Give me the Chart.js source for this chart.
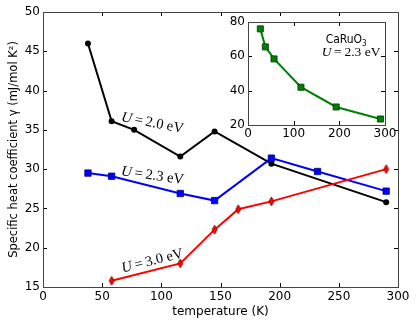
<!DOCTYPE html>
<html>
<head>
<meta charset="utf-8">
<script src="https://cdn.jsdelivr.net/npm/chart.js@4/dist/chart.umd.min.js"></script>
<style>
  html, body { margin: 0; padding: 0; background: #fff; }
  #wrap { position: relative; width: 416px; height: 325px; }
  #main { position: absolute; left: 0; top: 0; }
  #inset { position: absolute; left: 220px; top: 10px; }
</style>
</head>
<body>
<div id="wrap">
  <canvas id="main" width="416" height="325"></canvas>
  <canvas id="inset" width="180" height="135"></canvas>
</div>
<script>
// --- data ---
const tempU20 = [38, 58, 77, 116, 145, 193, 290];
const gammaU20 = [46.0, 36.1, 35.0, 31.6, 34.8, 30.7, 25.8];

const tempU23 = [38, 58, 116, 145, 193, 232, 290];
const gammaU23 = [29.5, 29.1, 26.9, 26.0, 31.4, 29.7, 27.2];

const tempU30 = [58, 116, 145, 165, 193, 290];
const gammaU30 = [15.8, 18.0, 22.3, 24.9, 25.9, 30.0];

const tempCaRuO3 = [27, 38, 57, 116, 193, 290];
const gammaCaRuO3 = [76.0, 65.5, 58.5, 42.0, 30.5, 23.5];

const seriesLabels = ["U=2.0 eV", "U=2.3 eV", "U=3.0 eV"];
const insetLabels = ["CaRuO3", "U=2.3 eV"];

const xTicksMain = [0, 50, 100, 150, 200, 250, 300];
const yTicksMain = [15, 20, 25, 30, 35, 40, 45, 50];
const xTicksInset = [0, 100, 200, 300];
const yTicksInset = [20, 40, 60, 80];

// --- helpers ---
const pts = (xs, ys) => xs.map((x, i) => ({ x, y: ys[i] }));
const useTicks = list => scale => { scale.ticks = list.map(v => ({ value: v })); };
const noGrid = { display: false, drawTicks: false, tickLength: 0 };

function thinDiamond(fill, edge, w, h) {
  const c = document.createElement("canvas");
  c.width = w + 2; c.height = h + 2;
  const g = c.getContext("2d");
  g.beginPath();
  g.moveTo(c.width / 2, 1);
  g.lineTo(c.width - 1, c.height / 2);
  g.lineTo(c.width / 2, c.height - 1);
  g.lineTo(1, c.height / 2);
  g.closePath();
  g.fillStyle = fill; g.fill();
  g.strokeStyle = edge; g.lineWidth = 0.8; g.stroke();
  return c;
}

// matplotlib-ish frame: box + inward ticks on all four sides
const frameTicks = {
  id: "frameTicks",
  beforeDraw(chart, args, opts) {
    if (!opts.fill) return;
    const a = chart.chartArea, ctx = chart.ctx;
    ctx.save();
    ctx.fillStyle = "#fff";
    ctx.fillRect(a.left, a.top, a.right - a.left, a.bottom - a.top);
    ctx.restore();
  },
  afterDraw(chart, args, opts) {
    const { ctx, chartArea: a, scales: { x, y } } = chart;
    const len = opts.len || 4;
    ctx.save();
    ctx.strokeStyle = "#000";
    ctx.lineWidth = 1;
    ctx.beginPath();
    x.ticks.forEach(t => {
      const px = Math.round(x.getPixelForValue(t.value)) + 0.5;
      ctx.moveTo(px, a.bottom); ctx.lineTo(px, a.bottom - len);
      ctx.moveTo(px, a.top); ctx.lineTo(px, a.top + len);
    });
    y.ticks.forEach(t => {
      const py = Math.round(y.getPixelForValue(t.value)) + 0.5;
      ctx.moveTo(a.left, py); ctx.lineTo(a.left + len, py);
      ctx.moveTo(a.right, py); ctx.lineTo(a.right - len, py);
    });
    ctx.stroke();
    ctx.strokeStyle = "#444";
    ctx.strokeRect(Math.round(a.left) + 0.5, Math.round(a.top) + 0.5,
                   Math.round(a.right - a.left), Math.round(a.bottom - a.top));
    ctx.restore();
  }
};

// "U=2.0 eV" style labels: italic U, roman rest
function drawMathLabel(ctx, text, size) {
  const head = text.charAt(0);
  const tail = "\u2009=\u2009" + text.slice(2);
  const fi = "italic " + size + "px 'Liberation Serif'";
  const fr = size + "px 'Liberation Serif'";
  ctx.font = fi; const w1 = ctx.measureText(head).width;
  ctx.font = fr; const w2 = ctx.measureText(tail).width;
  return { w: w1 + w2, draw(x0) {
    ctx.font = fi; ctx.fillText(head, x0, 0);
    ctx.font = fr; ctx.fillText(tail, x0 + w1, 0);
  } };
}

const curveLabels = {
  id: "curveLabels",
  afterDatasetsDraw(chart, args, opts) {
    const { ctx, scales: { x, y } } = chart;
    opts.items.forEach(it => {
      const px = x.getPixelForValue(it.x), py = y.getPixelForValue(it.y);
      ctx.save();
      ctx.translate(px, py);
      ctx.rotate(it.angle * Math.PI / 180);
      ctx.fillStyle = "#000";
      ctx.textBaseline = "middle";
      const m = drawMathLabel(ctx, it.text, 14.5);
      m.draw(-m.w / 2);
      ctx.restore();
    });
  }
};

const insetText = {
  id: "insetText",
  afterDraw(chart, args, opts) {
    const { ctx, scales: { x, y } } = chart;
    const px = x.getPixelForValue(opts.x);
    const py1 = y.getPixelForValue(opts.y1);
    const py2 = y.getPixelForValue(opts.y2);
    ctx.save();
    ctx.fillStyle = "#000";
    ctx.textBaseline = "alphabetic";
    const name = insetLabels[0];
    ctx.font = "12px 'DejaVu Sans Condensed', 'DejaVu Sans'";
    const base = name.slice(0, -1);
    ctx.fillText(base, px, py1);
    const bw = ctx.measureText(base).width;
    ctx.font = "8px 'DejaVu Sans Condensed', 'DejaVu Sans'";
    ctx.fillText(name.slice(-1), px + bw, py1 + 3);
    ctx.translate(px - 4, py2);
    const m = drawMathLabel(ctx, insetLabels[1], 13.5);
    m.draw(0);
    ctx.restore();
  }
};

const tickFont = { family: "DejaVu Sans", size: 12 };

// --- main chart ---
new Chart(document.getElementById("main"), {
  type: "line",
  data: {
    datasets: [
      {
        label: seriesLabels[0],
        data: pts(tempU20, gammaU20),
        borderColor: "#000", backgroundColor: "#000",
        borderWidth: 2, pointStyle: "circle", pointRadius: 3, pointBorderWidth: 0,
        order: 3
      },
      {
        label: seriesLabels[1],
        data: pts(tempU23, gammaU23),
        borderColor: "#0000ff", backgroundColor: "#0000ff",
        pointBorderColor: "#000080", pointBorderWidth: 0.8,
        borderWidth: 2, pointStyle: "rect", pointRadius: 4.5,
        order: 2
      },
      {
        label: seriesLabels[2],
        data: pts(tempU30, gammaU30),
        borderColor: "#ff0000", backgroundColor: "#ff0000",
        borderWidth: 2, pointStyle: thinDiamond("#ff0000", "#800000", 5, 9),
        order: 1
      }
    ]
  },
  options: {
    responsive: false,
    animation: false,
    layout: { padding: { left: 0, right: 18, top: 12, bottom: 0 } },
    plugins: {
      legend: { display: false },
      tooltip: { enabled: false },
      frameTicks: { len: 4 },
      curveLabels: {
        items: [
          { text: seriesLabels[0], x: 92.5, y: 35.85, angle: 11 },
          { text: seriesLabels[1], x: 92.5, y: 29.15, angle: 8 },
          { text: seriesLabels[2], x: 92.5, y: 18.3, angle: -14 }
        ]
      }
    },
    scales: {
      x: {
        type: "linear", min: 0, max: 300,
        afterBuildTicks: useTicks(xTicksMain),
        afterFit: s => { s.height = 38; },
        grid: noGrid, border: { display: false },
        ticks: { color: "#000", font: tickFont, padding: 3, maxRotation: 0 },
        title: { display: true, text: "temperature (K)", color: "#000",
                 font: { family: "DejaVu Sans", size: 12 }, padding: { top: 0, bottom: 6 } }
      },
      y: {
        type: "linear", min: 15, max: 50,
        afterBuildTicks: useTicks(yTicksMain),
        afterFit: s => { s.width = 43; },
        grid: noGrid, border: { display: false },
        ticks: { color: "#000", font: tickFont, padding: 3 },
        title: { display: true, text: "Specific heat coefficient \u03b3 (mJ/mol K\u00b2)", color: "#000",
                 font: { family: "DejaVu Sans", size: 11.5 }, padding: { top: 7, bottom: 0 } }
      }
    }
  },
  plugins: [frameTicks, curveLabels]
});

// --- inset ---
new Chart(document.getElementById("inset"), {
  type: "line",
  data: {
    datasets: [{
      label: insetLabels[0],
      data: pts(tempCaRuO3, gammaCaRuO3),
      borderColor: "#008000", backgroundColor: "#008000",
      pointBorderColor: "#003300", pointBorderWidth: 0.8,
      borderWidth: 2, pointStyle: "rect", pointRadius: 4.3
    }]
  },
  options: {
    responsive: false,
    animation: false,
    layout: { padding: { left: 0, right: 15, top: 12, bottom: 0 } },
    plugins: {
      legend: { display: false },
      tooltip: { enabled: false },
      frameTicks: { len: 4, fill: true },
      insetText: { x: 170, y1: 67.5, y2: 60.3 }
    },
    scales: {
      x: {
        type: "linear", min: 0, max: 300,
        afterBuildTicks: useTicks(xTicksInset),
        afterFit: s => { s.height = 20; },
        grid: noGrid, border: { display: false },
        ticks: { color: "#000", font: tickFont, padding: 2, maxRotation: 0 }
      },
      y: {
        type: "linear", min: 20, max: 80,
        afterBuildTicks: useTicks(yTicksInset),
        afterFit: s => { s.width = 28; },
        grid: noGrid, border: { display: false },
        ticks: { color: "#000", font: tickFont, padding: 3 }
      }
    }
  },
  plugins: [frameTicks, insetText]
});
</script>
</body>
</html>
